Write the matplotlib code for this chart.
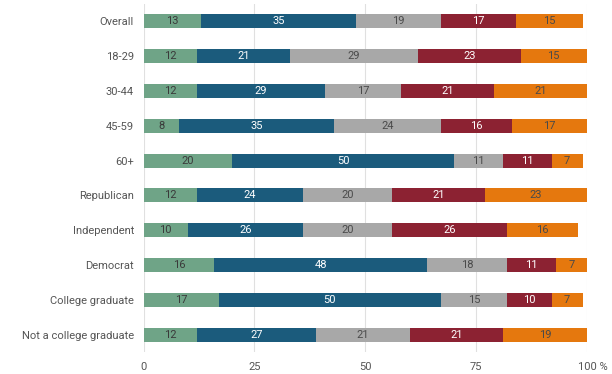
import matplotlib
matplotlib.use("Agg")
import matplotlib.pyplot as plt
import matplotlib.transforms as mtransforms
import numpy as np

plt.rcParams['font.family'] = ['Roboto', 'DejaVu Sans']

categories = ["Overall", "18-29", "30-44", "45-59", "60+", "Republican",
              "Independent", "Democrat", "College graduate", "Not a college graduate"]
s1 = [13, 12, 12, 8, 20, 12, 10, 16, 17, 12]
s2 = [35, 21, 29, 35, 50, 24, 26, 48, 50, 27]
s3 = [19, 29, 17, 24, 11, 20, 20, 18, 15, 21]
s4 = [17, 23, 21, 16, 11, 21, 26, 11, 10, 21]
s5 = [15, 15, 21, 17, 7, 23, 16, 7, 7, 19]
series = [s1, s2, s3, s4, s5]
colors = ["#6fa487", "#1b5b7c", "#a8a8a8", "#8c2232", "#e5780e"]
text_colors = ["#3a3a3a", "#ffffff", "#4a4a4a", "#ffffff", "#4a4a4a"]
xticks = [0, 25, 50, 75, 100]
xticklabels = ["0", "25", "50", "75", "100 %"]

fig = plt.figure(figsize=(6.12, 3.74), dpi=100)
ax = fig.add_axes([0.2345, 0.0575, 0.9592 - 0.2345, 0.9906 - 0.0575])

y = np.arange(len(categories))
left = np.zeros(len(categories))
for vals, c, tc in zip(series, colors, text_colors):
    vals = np.array(vals, dtype=float)
    ax.barh(y, vals, left=left, height=0.4, color=c, zorder=2)
    for yi, l, v in zip(y, left, vals):
        ax.text(l + v / 2, yi, f"{int(v)}", ha="center", va="center",
                color=tc, fontsize=8, zorder=3)
    left += vals

ax.set_ylim(len(categories) - 0.5, -0.5)
ax.set_xlim(0, 100)
ax.set_yticks(y)
ax.set_yticklabels(categories, fontsize=8, color="#555555")
ax.set_xticks(xticks)
ax.set_xticklabels(xticklabels, fontsize=8, color="#555555")
ax.tick_params(axis="y", length=0, pad=6.8)
ax.tick_params(axis="x", length=0, pad=7)
lab = ax.get_xticklabels()[-1]
lab.set_transform(lab.get_transform() + mtransforms.ScaledTranslation(6 / 100, 0, fig.dpi_scale_trans))
ax.grid(axis="x", color="#e0e0e0", linewidth=0.8, zorder=0)
for s in ax.spines.values():
    s.set_visible(False)

fig.savefig("out.png", dpi=100)
